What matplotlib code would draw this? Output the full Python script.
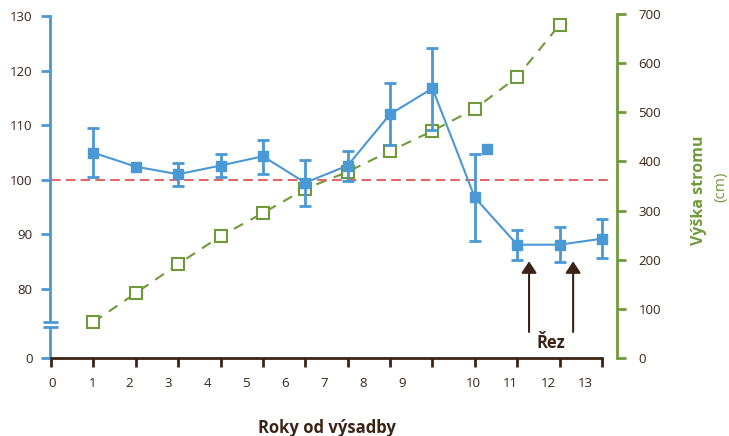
import matplotlib
matplotlib.use("Agg")
import matplotlib.pyplot as plt
import numpy as np

# ---------------- data ----------------
years = list(range(1, 14))
rel_growth = [104.95, 102.4, 101.0, 102.6, 104.3, 99.45, 102.6, 112.0, 116.75, 96.75, 88.1, 88.1, 89.2]
err_top = [109.4, np.nan, 103.1, 104.7, 107.3, 103.6, 105.3, 117.8, 124.2, 104.7, 90.7, 91.4, 92.8]
err_bottom = [100.55, np.nan, 98.9, 100.55, 101.0, 95.2, 99.8, 106.3, 109.1, 88.75, 85.3, 85.0, 85.7]
extra_x = [10.28]
extra_y = [105.7]

height_years = list(range(1, 13))
tree_height = [73, 132, 191, 248, 295, 344, 379, 421, 462, 507, 572, 678]

reference_level = 100
cut_years = [11.28, 12.32]
cut_label = "Řez"

x_ticks = list(range(0, 14))
x_tick_labels = [str(i) for i in range(14)]
left_tick_values = [80, 90, 100, 110, 120, 130]
left_tick_labels = ["80", "90", "100", "110", "120", "130"]
right_ticks = [0, 100, 200, 300, 400, 500, 600, 700]

x_title = "Roky od výsadby"
y2_title = "Výška stromu"
y2_unit = "(cm)"

# ---------------- layout / style ----------------
W, H = 729, 436
AX_BOTTOM_PX, AX_TOP_PX = 358, 14
AX_H_PX = AX_BOTTOM_PX - AX_TOP_PX
PX_PER_X = 42.38          # pixels per year
PX_PER_Y = 5.45           # pixels per unit of left axis
AXIS_ZERO = 80 - 69 / PX_PER_Y   # display position of the broken-axis "0"
label_pos = [0.02, 0.97, 1.84, 2.76, 3.68, 4.6, 5.52, 6.44, 7.36, 8.28, 9.96, 10.83, 11.73, 12.6]

blue = "#4A98D4"
green = "#6F9A3A"
brown = "#3B2416"
red = "#E06868"

plt.rcParams["font.family"] = ["Open Sans", "DejaVu Sans"]

fig = plt.figure(figsize=(W / 100, H / 100), dpi=100)
ax = fig.add_axes([50 / W, (H - AX_BOTTOM_PX) / H, (617 - 50) / W, AX_H_PX / H])
ax2 = ax.twinx()
ax.set_zorder(ax2.get_zorder() + 1)
ax.patch.set_visible(False)

ax.set_xlim(-1 / PX_PER_X, (617 - 51) / PX_PER_X)
ax.set_ylim(AXIS_ZERO, 130 + 2 / PX_PER_Y)
ax2.set_ylim(0, 700)

# spines
for s in ["top", "right"]:
    ax.spines[s].set_visible(False)
for s in ["top", "left", "bottom"]:
    ax2.spines[s].set_visible(False)
ax.spines["left"].set_color(blue)
ax.spines["left"].set_linewidth(2.0)
ax.spines["left"].set_bounds(AXIS_ZERO, 130)
ax.spines["bottom"].set_color(brown)
ax.spines["bottom"].set_linewidth(2.0)
ax.spines["bottom"].set_bounds(0, 13)
ax2.spines["right"].set_color(green)
ax2.spines["right"].set_linewidth(2.0)

# left ticks
ax.set_yticks([AXIS_ZERO] + left_tick_values, ["0"] + left_tick_labels)
ax.tick_params(axis="y", direction="out", length=6.5, width=2.0, color=blue,
               labelcolor=brown, labelsize=9.5, pad=6)
# x ticks: marks at integers, labels drawn at their own places
ax.set_xticks(x_ticks, [""] * len(x_ticks))
ax.tick_params(axis="x", which="major", direction="out", length=6.5, width=2.0,
               color=brown, bottom=True)
for xp, lab in zip(label_pos, x_tick_labels):
    ax.text(xp, -(383 - AX_BOTTOM_PX) / AX_H_PX, lab,
            transform=ax.get_xaxis_transform(), ha="center", va="center",
            fontsize=9.5, color=brown, clip_on=False)
# right ticks
ax2.set_yticks(right_ticks, [str(v) for v in right_ticks])
ax2.tick_params(axis="y", direction="out", length=6.5, width=2.0, color=green,
                labelcolor=brown, labelsize=9.5, pad=9)

# axis break marks
y_b1 = 80 - (321.7 - 289) / PX_PER_Y
y_b2 = 80 - (326.7 - 289) / PX_PER_Y
xb0, xb1 = (43 - 51) / PX_PER_X, (58 - 51) / PX_PER_X
ax.fill_between([xb0 / 3, -xb0 / 3], y_b2, y_b1, color="white", zorder=5, clip_on=False)
for yb in (y_b1, y_b2):
    ax.plot([xb0, xb1], [yb, yb], color=blue, lw=2.0, clip_on=False, zorder=6,
            solid_capstyle="butt")

# reference line
ax.hlines(reference_level, 0, (612 - 51) / PX_PER_X, colors=red, lw=1.5,
          linestyles=(0, (4.6, 2.5)), zorder=1)

# tree height (right axis)
ax2.plot(height_years, tree_height, color=green, lw=1.5, ls=(0, (5, 4)),
         marker="s", ms=8, mfc="white", mec=green, mew=1.5)

# relative growth with error bars
yr = np.array(years, dtype=float)
val = np.array(rel_growth)
top = np.array(err_top)
bot = np.array(err_bottom)
m = ~np.isnan(top)
ax.errorbar(yr[m], val[m], yerr=[val[m] - bot[m], top[m] - val[m]], fmt="none",
            ecolor=blue, elinewidth=2.0, capsize=4.3, capthick=2.0, zorder=3)
ax.plot(years, rel_growth, color=blue, lw=1.5, marker="s", ms=7.2, zorder=4)
ax.plot(extra_x, extra_y, ls="none", color=blue, marker="s", ms=7.2, zorder=4)

# pruning arrows
y_tail = 80 - (332 - 289) / PX_PER_Y
y_head = 90 - (261 - 234) / PX_PER_Y
for cx in cut_years:
    ax.annotate("", xy=(cx, y_head), xytext=(cx, y_tail),
                arrowprops=dict(arrowstyle="-|>,head_length=0.3,head_width=0.2",
                                color=brown, lw=1.5, mutation_scale=23,
                                shrinkA=0, shrinkB=0), zorder=5)
ax.text(np.mean(cut_years), 80 - (343 - 289) / PX_PER_Y, cut_label, ha="center",
        va="center", fontsize=12, fontweight="bold", color=brown)

# titles
fig.text(327 / W, 1 - 428 / H, x_title, ha="center", va="center", fontsize=12,
         fontweight="bold", color=brown)
fig.text(699 / W, 1 - 190 / H, y2_title, ha="center", va="center", rotation=90,
         fontsize=11.5, fontweight="bold", color=green)
fig.text(721 / W, 1 - 187 / H, y2_unit, ha="center", va="center", rotation=90,
         fontsize=11, color=green)

fig.savefig("out.png", dpi=100)
